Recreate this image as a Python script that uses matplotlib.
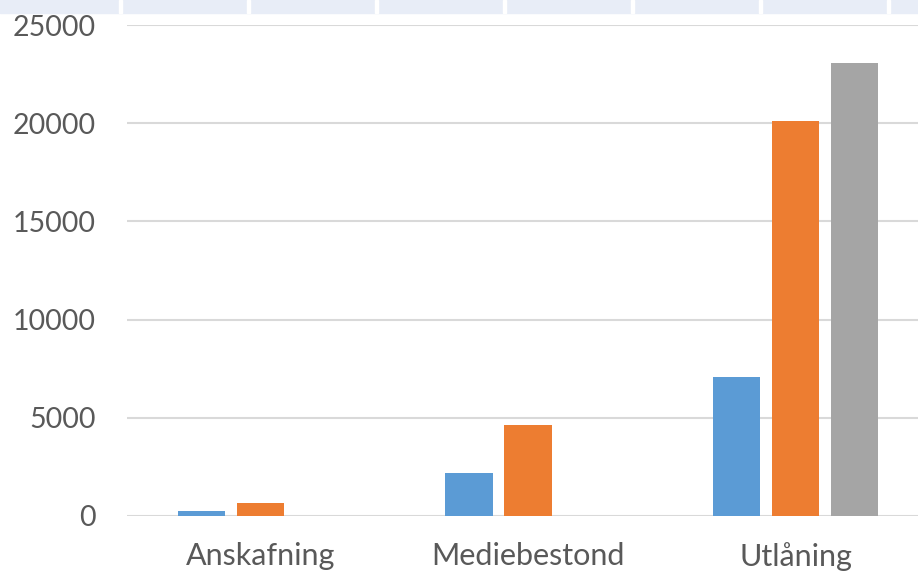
import matplotlib
matplotlib.use("Agg")
from matplotlib import pyplot as plt
from matplotlib.patches import Rectangle
import numpy as np

categories = ["Anskafning", "Mediebestond", "Utlåning"]
series_1 = [250, 2200, 7100]
series_2 = [650, 4620, 20100]
series_3 = [0, 0, 23050]
colors = ["#5B9BD5", "#ED7D31", "#A5A5A5"]

plt.rcParams['font.family'] = ['Lato', 'DejaVu Sans']

fig = plt.figure(figsize=(9.18, 5.76), dpi=100)

# light banded strip at the top edge (cropped table header)
W, H = 918, 576
band_h = 13
fig.patches.append(Rectangle((0, 1 - band_h / H), 1, band_h / H,
                             transform=fig.transFigure, color="#E8EDF7", zorder=0))
for sx in [120, 248, 376, 504, 632, 760, 888]:
    fig.patches.append(Rectangle(((sx - 1.5) / W, 1 - band_h / H), 3 / W, band_h / H,
                                 transform=fig.transFigure, color="white", zorder=1))

ax = fig.add_axes([126.75 / W, 60 / H, 802.5 / W, 491 / H])

x = np.arange(len(categories))
step = 0.2206
width = 0.176
for i, vals in enumerate([series_1, series_2, series_3]):
    ax.bar(x + (i - 1) * step, vals, width, color=colors[i], zorder=3)

ax.set_xlim(-0.5, 2.5)
ax.set_ylim(0, 25000)
ax.set_yticks(np.arange(0, 25001, 5000))
ax.set_xticks(x)
ax.set_xticklabels(categories)
ax.yaxis.grid(True, color="#D9D9D9", linewidth=1.5, zorder=0)
ax.set_axisbelow(True)
for s in ax.spines.values():
    s.set_visible(False)
ax.tick_params(axis="both", length=0, labelcolor="#595959")
ax.tick_params(axis="y", pad=22, labelsize=20.5)
ax.tick_params(axis="x", pad=19, labelsize=22)
ax.axhline(0, color="#D9D9D9", linewidth=1.8, zorder=2)

fig.savefig("out.png", dpi=100)
